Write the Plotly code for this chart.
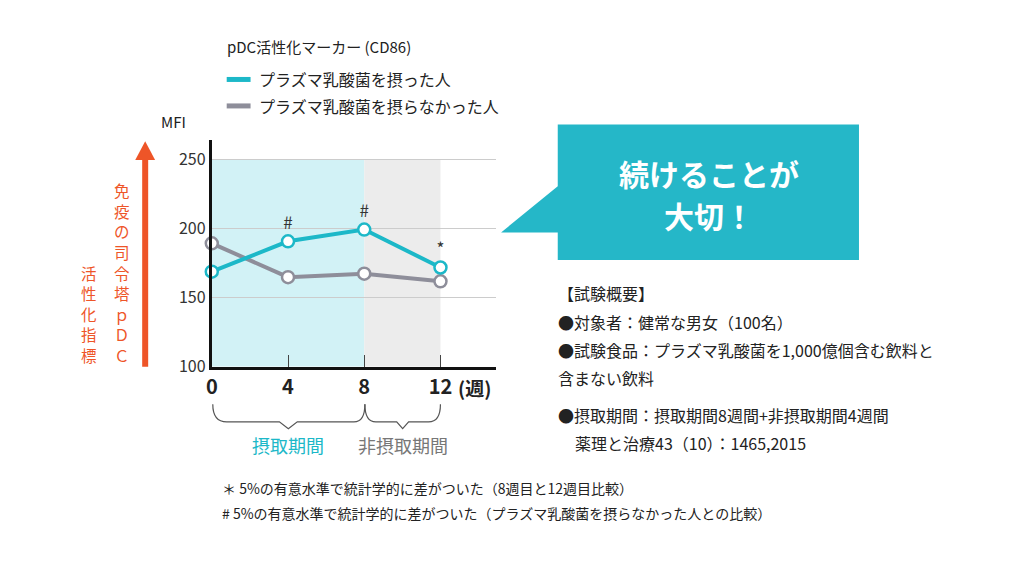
import plotly.graph_objects as go

weeks = [0, 4, 8, 12]
taken = [169, 191, 199.5, 172]
not_taken = [189.5, 165, 167.5, 162]
marks = ["", "#", "#", "*"]
y_ticks = [100, 150, 200, 250]

TEAL = "#1cb8c8"
GRAY = "#8e8e9a"
ORANGE = "#ee5528"
FONT = "Noto Sans CJK JP"

def px(x): return x / 1024
def py(y): return 1 - y / 576

fig = go.Figure()
fig.add_trace(go.Scatter(x=weeks, y=not_taken, mode="lines+markers",
    line=dict(color=GRAY, width=4),
    marker=dict(size=12, color="white", line=dict(color=GRAY, width=2.5)), cliponaxis=False))
fig.add_trace(go.Scatter(x=weeks, y=taken, mode="lines+markers+text", text=marks,
    textposition="top center", textfont=dict(size=17, color="#333", family=FONT),
    line=dict(color=TEAL, width=4),
    marker=dict(size=12, color="white", line=dict(color=TEAL, width=2.5)), cliponaxis=False))

shapes = [
    dict(type="rect", xref="x", yref="y", x0=0, x1=8, y0=100, y1=250, fillcolor="#d2f2f6", line_width=0, layer="below"),
    dict(type="rect", xref="x", yref="y", x0=8, x1=12, y0=100, y1=250, fillcolor="#ececec", line_width=0, layer="below"),
    dict(type="line", xref="paper", yref="paper", x0=px(140), x1=px(140), y0=py(374), y1=py(160), line=dict(color=ORANGE, width=6)),
    dict(type="path", xref="paper", yref="paper", path=f"M {px(130)} {py(163)} L {px(150)} {py(163)} L {px(140)} {py(144)} Z", fillcolor=ORANGE, line_width=0),
    dict(type="line", xref="paper", yref="paper", x0=px(222), x1=px(246), y0=py(81), y1=py(81), line=dict(color=TEAL, width=5)),
    dict(type="line", xref="paper", yref="paper", x0=px(222), x1=px(246), y0=py(108), y1=py(108), line=dict(color=GRAY, width=5)),
    dict(type="path", xref="paper", yref="paper", line=dict(color="#555", width=1.2),
         path=f"M {px(208)} {py(412)} Q {px(208)} {py(430)} {px(222)} {py(430)} L {px(275)} {py(430)} L {px(284)} {py(437)} L {px(293)} {py(430)} L {px(350)} {py(430)} Q {px(361)} {py(430)} {px(361)} {py(412)}"),
    dict(type="path", xref="paper", yref="paper", line=dict(color="#555", width=1.2),
         path=f"M {px(361)} {py(412)} Q {px(361)} {py(430)} {px(372)} {py(430)} L {px(393)} {py(430)} L {px(399)} {py(437)} L {px(405)} {py(430)} L {px(425)} {py(430)} Q {px(437)} {py(430)} {px(437)} {py(412)}"),
    dict(type="path", xref="paper", yref="paper", fillcolor="#25b7c8", line_width=0,
         path=f"M {px(555)} {py(127)} L {px(858)} {py(127)} L {px(858)} {py(265)} L {px(555)} {py(265)} L {px(555)} {py(237)} L {px(498)} {py(237)} L {px(555)} {py(190)} Z"),
]

def ann(x, y, text, size=15, color="#222", xanchor="left", yanchor="middle", bold=False, align="left"):
    return dict(xref="paper", yref="paper", x=px(x), y=py(y), text=f"<b>{text}</b>" if bold else text,
                showarrow=False, xanchor=xanchor, yanchor=yanchor, align=align,
                font=dict(size=size, color=color, family=FONT))

anns = [
    ann(220, 47, "pDC活性化マーカー (CD86)", 15),
    ann(252, 81, "プラズマ乳酸菌を摂った人", 16),
    ann(252, 108, "プラズマ乳酸菌を摂らなかった人", 16),
    ann(183, 124, "MFI", 15, xanchor="right"),
    ann(453, 395, "(週)", 19, bold=True),
    ann(284, 454, "摂取期間", 18, TEAL, "center"),
    ann(399, 454, "非摂取期間", 18, "#777", "center"),
    ann(707, 176, "続けることが", 30, "white", "center", bold=True),
    ann(707, 219, "大切！", 30, "white", "center", bold=True),
    ann(553, 299, "【試験概要】", 16),
    ann(553, 328, "●対象者：健常な男女（100名）", 16),
    ann(553, 357, "●試験食品：プラズマ乳酸菌を1,000億個含む飲料と", 16),
    ann(553, 385, "含まない飲料", 16),
    ann(553, 423, "●摂取期間：摂取期間8週間+非摂取期間4週間", 16),
    ann(570, 452, "薬理と治療43（10）：1465,2015", 16),
    ann(215, 497, "＊ 5%の有意水準で統計学的に差がついた（8週目と12週目比較）", 14),
    ann(215, 523, "# 5%の有意水準で統計学的に差がついた（プラズマ乳酸菌を摂らなかった人との比較）", 14),
]
col1 = "免疫の司令塔ｐＤＣ"
for i, ch in enumerate(col1):
    anns.append(ann(117, 362 - 21 * (len(col1) - 1 - i), ch, 15.5, ORANGE, "center"))
col2 = "活性化指標"
for i, ch in enumerate(col2):
    anns.append(ann(83, 362 - 21 * (len(col2) - 1 - i), ch, 15.5, ORANGE, "center"))

fig.update_layout(
    width=1024, height=576, margin=dict(l=0, r=0, t=0, b=0),
    paper_bgcolor="white", plot_bgcolor="rgba(0,0,0,0)", showlegend=False,
    shapes=shapes, annotations=anns, font=dict(family=FONT),
    xaxis=dict(domain=[px(207), px(493)], range=[0, 14.92], tickvals=weeks,
               ticktext=[f"<b>{w}</b>" for w in weeks], tickfont=dict(size=20, color="#222"),
               ticks="inside", ticklen=12, tickcolor="#444", showgrid=False, zeroline=False,
               showline=True, linecolor="#111", linewidth=3, fixedrange=True),
    yaxis=dict(domain=[py(374), py(143)], range=[100, 264.2], tickvals=y_ticks,
               tickfont=dict(size=16, color="#333"), ticks="", showgrid=True, gridcolor="#cccccc",
               zeroline=False, showline=True, linecolor="#111", linewidth=3, fixedrange=True),
)
fig.write_html("out.html", config={"displayModeBar": False},
               post_script="document.body.style.margin='0';")
